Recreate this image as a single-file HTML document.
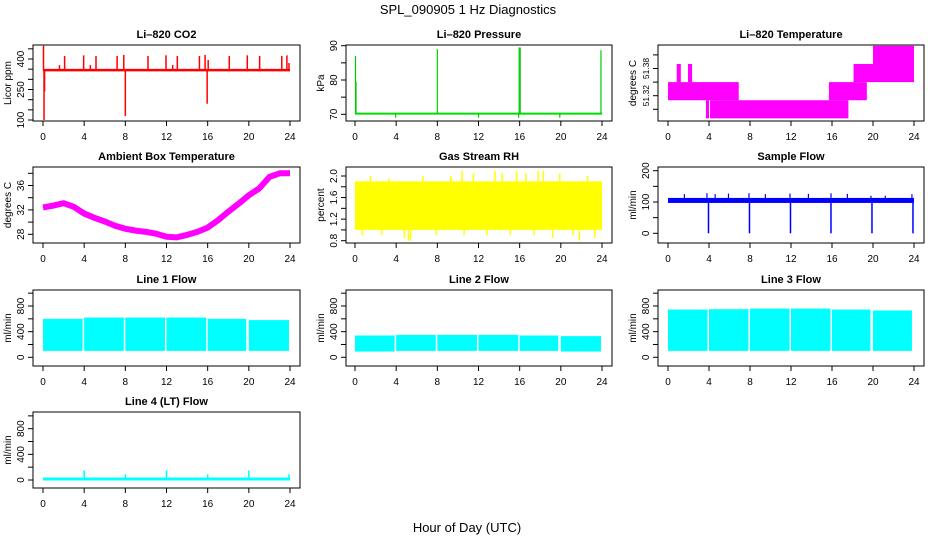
<!DOCTYPE html>
<html><head><meta charset="utf-8"><style>
html,body{margin:0;padding:0;background:#fff;}
svg{display:block;font-family:"Liberation Sans",Helvetica,sans-serif;}
</style></head><body>
<svg id="chart" width="936" height="540" viewBox="0 0 936 540">
<text x="468" y="14" text-anchor="middle" font-size="13">SPL_090905  1 Hz Diagnostics</text>
<text x="467" y="532" text-anchor="middle" font-size="13">Hour of Day (UTC)</text>
</svg>
<script>
// ---- data (hours of day, values in native units) ----
const xTicks=[0,4,8,12,16,20,24];
// CO2
const co2Base=345;
const co2SpikeT=[0.05,0.1,0.15,1.6,2.1,3.95,4.6,5.15,7.2,7.85,8.0,10.2,11.95,12.6,13.05,15.2,15.75,15.95,16.05,18.1,19.85,21.05,23.2,23.7,23.9];
const co2SpikeV=[465,100,240,370,415,418,370,415,415,420,120,415,418,370,415,415,420,180,395,415,418,415,415,418,380];
// Pressure
const presBase=70.2;
const presSpikeT=[0.05,0.1,3.95,8.0,12.0,15.9,15.95,16.05,19.9,23.9];
const presSpikeV=[87,79.5,69,89,69,69,89.5,89.5,69,88.7];
// Li-820 temperature blocks [start,end,lo,hi]
const tempStart=[0,0.85,1.95,3.7,4.1,15.7,18.1,20.0];
const tempEnd=[6.9,1.25,2.35,4.0,17.6,19.4,20.0,24.0];
const tempLo=[51.31,51.35,51.35,51.27,51.27,51.31,51.35,51.35];
const tempHi=[51.35,51.39,51.39,51.31,51.31,51.35,51.39,51.43];
// Ambient box temperature (hourly)
const ambT=[0,1,2,3,4,5,6,7,8,9,10,11,12,13,14,15,16,17,18,19,20,21,22,23,24];
const ambV=[32.4,32.7,33.1,32.5,31.4,30.7,30.1,29.4,28.9,28.6,28.4,28.1,27.6,27.5,27.9,28.4,29.1,30.3,31.7,33.0,34.4,35.5,37.4,38.0,38.0];
// Gas stream RH band + spikes
const rhLo=1.0, rhHi=1.9;
const rhSpikeT=[0.7,1.5,2.6,3.3,4.8,5.2,5.4,6.6,7.9,9.3,10.4,10.6,11.5,12.8,13.6,14.3,15.1,15.7,16.6,17.4,17.8,18.3,19.2,19.9,21.2,21.8,22.6,23.3];
const rhSpikeV=[0.9,2.0,0.9,1.95,0.85,0.8,0.8,2.0,0.9,2.0,2.1,0.9,2.05,0.9,2.1,2.05,0.9,2.1,2.05,0.9,2.1,2.1,0.85,2.05,0.9,0.8,2.0,0.85];
// Sample flow
const sfLo=97, sfHi=113;
const sfDipT=[3.95,7.95,11.95,15.9,19.9,23.9];
const sfDipV=[0,0,0,0,0,0];
const sfSpikeT=[1.6,3.8,4.6,5.9,7.9,9.5,11.9,13.7,15.9,17.5,19.8,21.2,23.8];
const sfSpikeV=[125,128,125,127,128,125,127,126,128,126,120,120,125];
// Line flows: band segments
const l1Start=[0,4.0,8.0,12.0,16.0,20.0];
const l1End=[3.85,7.85,11.85,15.85,19.75,23.9];
const l1Lo=[100,100,100,100,100,100];
const l1Hi=[600,620,620,620,600,580];
const l2Start=[0,4.0,8.0,12.0,16.0,20.0];
const l2End=[3.85,7.85,11.85,15.85,19.75,23.9];
const l2Lo=[90,100,100,100,100,90];
const l2Hi=[340,350,350,350,340,330];
const l3Start=[0,4.0,8.0,12.0,16.0,20.0];
const l3End=[3.85,7.85,11.85,15.85,19.75,23.8];
const l3Lo=[100,100,100,100,100,100];
const l3Hi=[745,750,760,760,745,730];
const l4Base=15;
const l4SpikeT=[4.0,8.0,12.0,16.0,20.0,23.9];
const l4SpikeV=[150,90,150,90,150,90];

const svg=document.getElementById('chart');
const NS='http://www.w3.org/2000/svg';
function mk(tag,attrs,parent){const e=document.createElementNS(NS,tag);for(const k in attrs)e.setAttribute(k,attrs[k]);(parent||svg).appendChild(e);return e;}

const cols=[{L:33,R:300,x0:43,x24:290},{L:346,R:612,x0:355,x24:602},{L:658,R:924,x0:668,x24:914}];
const rows=[{T:45,B:121},{T:167,B:243},{T:290,B:366},{T:412,B:488}];

function panel(name,title,col,row,yv0,ypx0,yv1,ypx1,ticks,labels,ytitle,lfs){
  const c=cols[col],r=rows[row];
  const g=mk('g',{});
  
  
  const X=t=>c.x0+(c.x24-c.x0)*t/24;
  const Y=v=>ypx0+(ypx1-ypx0)*(v-yv0)/(yv1-yv0);
  const data=mk('g',{},g);
  
  
  const fr=mk('rect',{x:c.L,y:r.T,width:c.R-c.L,height:r.B-r.T,fill:'none',stroke:'#000','stroke-width':1},g);
  
  
  const tt=mk('text',{x:(c.L+c.R)/2,y:r.T-7,'text-anchor':'middle','font-size':11,'font-weight':'bold'},g);
  tt.textContent=title;
  
  
  const xa=mk('g',{},g);
  
  
  xTicks.forEach(t=>{mk('line',{x1:X(t),x2:X(t),y1:r.B,y2:r.B+5,stroke:'#000'},xa);
    const tx=mk('text',{x:X(t),y:r.B+19,'text-anchor':'middle','font-size':10},xa);tx.textContent=t;});
  const ya=mk('g',{},g);
  
  
  ticks.forEach((v,i)=>{const y=Y(v);mk('line',{x1:c.L-5,x2:c.L,y1:y,y2:y,stroke:'#000'},ya);
    if(labels[i]!==''){const tx=mk('text',{x:c.L-9,y:y,'text-anchor':'middle','font-size':lfs||10,transform:`rotate(-90 ${c.L-9} ${y})`},ya);tx.textContent=labels[i];}});
  const yt=mk('text',{x:c.L-22,y:(r.T+r.B)/2,'text-anchor':'middle','font-size':10,transform:`rotate(-90 ${c.L-22} ${(r.T+r.B)/2})`},g);
  yt.textContent=ytitle;
  
  
  return {X,Y,g:data};
}
function vline(p,t,v0,v1,col,w){mk('line',{x1:p.X(t),x2:p.X(t),y1:p.Y(v0),y2:p.Y(v1),stroke:col,'stroke-width':w||1.2},p.g);}
function hline(p,t0,t1,v,col,w){mk('line',{x1:p.X(t0),x2:p.X(t1),y1:p.Y(v),y2:p.Y(v),stroke:col,'stroke-width':w||2},p.g);}
function band(p,t0,t1,lo,hi,col){mk('rect',{x:p.X(t0),y:p.Y(hi),width:p.X(t1)-p.X(t0),height:p.Y(lo)-p.Y(hi),fill:col},p.g);}

let p=panel('co2-panel','Li\u2013820 CO2',0,0,100,120,400,59,[100,150,200,250,300,350,400,450],['100','','','250','','','400',''],'Licor ppm');
hline(p,0,24,co2Base,'#ff0000',2.5);
co2SpikeT.forEach((t,i)=>vline(p,t,co2Base,co2SpikeV[i],'#ff0000',1.5));
p=panel('pressure-panel','Li\u2013820 Pressure',1,0,70,114.3,90,45.7,[70,75,80,85,90],['70','','80','','90'],'kPa');
hline(p,0,24,presBase,'#00dd00',2);
presSpikeT.forEach((t,i)=>vline(p,t,presBase,presSpikeV[i],'#00cc00',1.2));
p=panel('li820-temp-panel','Li\u2013820 Temperature',2,0,51.32,95.7,51.38,68.5,[51.29,51.32,51.35,51.38,51.41],['','51.32','','51.38',''],'degrees C',8.5);
tempStart.forEach((t,i)=>band(p,t,tempEnd[i],tempLo[i],tempHi[i],'#ff00ff'));
p=panel('ambient-temp-panel','Ambient Box Temperature',0,1,28,234.3,36,185.5,[28,30,32,34,36,38],['28','','32','','36',''],'degrees C');
mk('polyline',{points:ambT.map((t,i)=>p.X(t)+','+p.Y(ambV[i])).join(' '),fill:'none',stroke:'#ff00ff','stroke-width':6,'stroke-linejoin':'round'},p.g);
p=panel('gas-rh-panel','Gas Stream RH',1,1,0.8,240.7,2.0,176,[0.8,1.0,1.2,1.4,1.6,1.8,2.0],['0.8','','1.2','','1.6','','2.0'],'percent');
band(p,0,24,rhLo,rhHi,'#ffff00');
rhSpikeT.forEach((t,i)=>vline(p,t,1.5,rhSpikeV[i],'#ffff00',1.5));
p=panel('sample-flow-panel','Sample Flow',2,1,0,233.3,200,170.7,[0,50,100,150,200],['0','','100','','200'],'ml/min');
band(p,0,24,sfLo,sfHi,'#0000ff');
sfDipT.forEach((t,i)=>vline(p,t,sfLo,sfDipV[i],'#0000ff',1.5));
sfSpikeT.forEach((t,i)=>vline(p,t,sfHi,sfSpikeV[i],'#0000ff',1.2));
const lt=[0,200,400,600,800,1000], ll=['0','','400','','800',''];
p=panel('line1-flow-panel','Line 1 Flow',0,2,0,357.3,800,306,lt,ll,'ml/min');
l1Start.forEach((t,i)=>band(p,t,l1End[i],l1Lo[i],l1Hi[i],'#00ffff'));
p=panel('line2-flow-panel','Line 2 Flow',1,2,0,357.3,800,306,lt,ll,'ml/min');
l2Start.forEach((t,i)=>band(p,t,l2End[i],l2Lo[i],l2Hi[i],'#00ffff'));
p=panel('line3-flow-panel','Line 3 Flow',2,2,0,357.3,800,306,lt,ll,'ml/min');
l3Start.forEach((t,i)=>band(p,t,l3End[i],l3Lo[i],l3Hi[i],'#00ffff'));
p=panel('line4-flow-panel','Line 4 (LT) Flow',0,3,0,480,800,428.7,lt,ll,'ml/min');
hline(p,0,24,l4Base,'#00ffff',3);
l4SpikeT.forEach((t,i)=>vline(p,t,l4Base,l4SpikeV[i],'#00ffff',1.5));
</script>
</body></html>
